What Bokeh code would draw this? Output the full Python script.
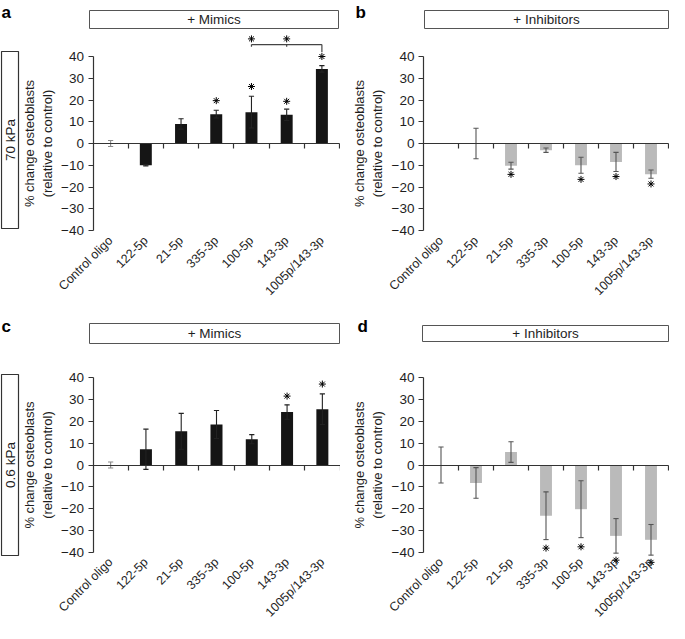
import numpy as np
from math import pi
from bokeh.plotting import figure
from bokeh.models import Range1d, LinearAxis, FixedTicker, ColumnDataSource
from bokeh.layouts import row, column
from bokeh.core.properties import value
from bokeh.embed import file_html
from bokeh.resources import INLINE

FONT = "Liberation Sans"

categories = ["Control oligo", "122-5p", "21-5p", "335-3p", "100-5p", "143-3p", "1005p/143-3p"]
y_ticks = [-40, -30, -20, -10, 0, 10, 20, 30, 40]
y_label = "% change osteoblasts\n(relative to control)"

# panel a: 70 kPa + mimics
a_mean = [0.0, -10.0, 9.0, 13.5, 14.4, 13.2, 34.3]
a_err = [1.4, 0.3, 2.4, 1.8, 7.3, 2.6, 1.5]
a_star = [np.nan, np.nan, np.nan, 19.7, 26.2, 19.4, 40.0]
# bracket in panel a: 100-5p and 143-3p vs 1005p/143-3p
bracket_from = ["100-5p", "143-3p"]
bracket_to = "1005p/143-3p"
bracket_level = 45.5
bracket_star = 48.1

# panel b: 70 kPa + inhibitors
b_mean = [0.0, 0.0, -10.2, -3.1, -10.0, -8.5, -14.1]
b_err = [0.0, 7.0, 1.6, 1.0, 3.7, 4.4, 1.9]
b_star = [np.nan, np.nan, -14.2, np.nan, -16.5, -15.2, -18.6]

# panel c: 0.6 kPa + mimics
c_mean = [0.0, 7.2, 15.4, 18.5, 11.8, 24.2, 25.5]
c_err = [1.4, 9.2, 8.2, 6.4, 2.1, 3.3, 7.0]
c_star = [np.nan, np.nan, np.nan, np.nan, np.nan, 31.5, 37.0]

# panel d: 0.6 kPa + inhibitors
d_mean = [0.0, -8.2, 5.9, -23.2, -20.2, -32.4, -34.2]
d_err = [8.2, 7.0, 4.7, 10.9, 13.0, 7.9, 7.0]
d_star = [np.nan, np.nan, np.nan, -38.0, -37.4, -43.5, -44.5]

BLACK = "#151515"
GRAY = "#bababa"
AXC = "#333333"
TXT = "#1e1e1e"


def panel(letter, title, means, errs, stars, bar_color, err_color, ctrl_err_color,
          W, H, ax_l, ax_r, y40, ym40, letter_xy, title_box, side_box=None,
          side_text=None, bracket=False):
    n = len(categories)
    ppx = (ax_r - ax_l) / n
    ppy = (ym40 - y40) / 80.0

    def X(px):
        return (px - ax_l) / ppx

    def Y(py):
        return 40 - (py - y40) / ppy

    p = figure(width=W, height=H, x_range=Range1d(X(0), X(W)), y_range=Range1d(Y(H), Y(0)),
               x_axis_location=None, y_axis_location=None, toolbar_location=None,
               output_backend="svg", min_border=0, outline_line_color=None)
    p.background_fill_color = "white"
    p.border_fill_color = "white"
    p.grid.visible = False

    means = np.array(means, dtype=float)
    errs = np.array(errs, dtype=float)
    xs = np.arange(n) + 0.5
    cap = 2.6 / ppx
    ecol = [ctrl_err_color] + [err_color] * (n - 1)
    src = ColumnDataSource(dict(x=xs, top=means, lower=means - errs, upper=means + errs,
                                cl=xs - cap, cr=xs + cap, star=np.array(stars, dtype=float),
                                ecol=ecol))
    p.vbar(x="x", top="top", bottom=0, width=0.34, fill_color=bar_color, line_color=None,
           source=src)

    # y axis
    yax = LinearAxis(fixed_location=0, ticker=FixedTicker(ticks=y_ticks, minor_ticks=[]),
                     bounds=(-40, 40))
    yax.major_label_overrides = {t: (("\u2212%d" % -t) if t < 0 else str(t)) for t in y_ticks}
    yax.major_tick_out = 5
    yax.major_tick_in = 0
    yax.minor_tick_line_color = None
    yax.major_label_standoff = 4
    yax.axis_line_color = AXC
    yax.axis_line_width = 1.2
    yax.major_tick_line_color = AXC
    yax.major_tick_line_width = 1.2
    yax.major_label_text_font = FONT
    yax.major_label_text_font_size = "13.5px"
    yax.major_label_text_color = TXT
    yax.axis_label = y_label
    yax.axis_label_text_font = FONT
    yax.axis_label_text_font_size = "13px"
    yax.axis_label_text_font_style = "normal"
    yax.axis_label_text_color = TXT
    yax.axis_label_standoff = 4
    p.add_layout(yax, "left")

    # category axis drawn at y = 0: boundary ticks (minor), labels pushed below -40
    xax = LinearAxis(fixed_location=0,
                     ticker=FixedTicker(ticks=list(xs), minor_ticks=list(range(1, n + 1))),
                     bounds=(0, n))
    xax.major_label_overrides = {float(x): c for x, c in zip(xs, categories)}
    xax.major_label_orientation = pi / 4
    xax.major_tick_line_color = None
    xax.major_tick_out = 0
    xax.major_tick_in = 0
    xax.minor_tick_out = 5
    xax.minor_tick_in = 0
    xax.minor_tick_line_color = AXC
    xax.minor_tick_line_width = 1.2
    xax.axis_line_color = AXC
    xax.axis_line_width = 1.2
    xax.major_label_standoff = int(round(40 * ppy + 3))
    xax.major_label_text_font = FONT
    xax.major_label_text_font_size = "12.5px"
    xax.major_label_text_color = TXT
    p.add_layout(xax, "below")

    # error bars
    p.segment(x0="x", y0="lower", x1="x", y1="upper", line_color="ecol", line_width=1.1, source=src)
    p.segment(x0="cl", y0="upper", x1="cr", y1="upper", line_color="ecol", line_width=1.1, source=src)
    p.segment(x0="cl", y0="lower", x1="cr", y1="lower", line_color="ecol", line_width=1.1, source=src)

    # significance stars
    p.scatter(x="x", y="star", marker="asterisk", size=7, line_color="black", line_width=1.0,
              source=src)

    if bracket:
        i_to = categories.index(bracket_to)
        i_fr = [categories.index(c) for c in bracket_from]
        x0 = xs[min(i_fr)]
        x1 = xs[i_to]
        p.segment(x0=[x0], y0=[bracket_level], x1=[x1], y1=[bracket_level], line_color="#444",
                  line_width=1.2)
        p.segment(x0=[xs[i] for i in i_fr], y0=[bracket_level] * len(i_fr),
                  x1=[xs[i] for i in i_fr], y1=[bracket_level - 1.0] * len(i_fr),
                  line_color="#444", line_width=1.2)
        p.segment(x0=[x1], y0=[bracket_level], x1=[x1], y1=[bracket_level - 3.5],
                  line_color="#444", line_width=1.2)
        p.scatter(x=[xs[i] for i in i_fr], y=[bracket_star] * len(i_fr), marker="asterisk",
                  size=7, line_color="black", line_width=1.0)

    # decorations: panel letter, title box, side box
    p.text(x=[X(letter_xy[0])], y=[Y(letter_xy[1])], text=[letter], text_font=value(FONT),
           text_font_size="17px", text_font_style="bold", text_align="left",
           text_baseline="alphabetic", text_color="black")
    bx0, by0, bx1, by1 = title_box
    p.quad(left=[X(bx0)], right=[X(bx1)], top=[Y(by0)], bottom=[Y(by1)], fill_color=None,
           line_color="#555", line_width=1)
    p.text(x=[X((bx0 + bx1) / 2)], y=[Y((by0 + by1) / 2)], text=[title], text_font=value(FONT),
           text_font_size="13.5px", text_align="center", text_baseline="middle", text_color=TXT)
    if side_box is not None:
        sx0, sy0, sx1, sy1 = side_box
        p.quad(left=[X(sx0)], right=[X(sx1)], top=[Y(sy0)], bottom=[Y(sy1)], fill_color=None,
               line_color="#333", line_width=1.2)
        p.text(x=[X((sx0 + sx1) / 2)], y=[Y((sy0 + sy1) / 2)], text=[side_text],
               text_font=value(FONT), text_font_size="13.5px", text_align="center",
               text_baseline="middle", angle=pi / 2, text_color=TXT)
    return p


pa = panel("a", "+ Mimics", a_mean, a_err, a_star, BLACK, "#222222", "#8a8a8a",
           340, 310, 92.5, 339.0, 56, 230, (1, 12), (89, 10, 338, 28),
           side_box=(1, 51, 18, 228), side_text="70 kPa", bracket=True)
pb = panel("b", "+ Inhibitors", b_mean, b_err, b_star, GRAY, "#555555", "#555555",
           329, 310, 83, 328, 56, 230, (15, 12), (84, 10, 328, 28))
pc = panel("c", "+ Mimics", c_mean, c_err, c_star, BLACK, "#222222", "#8a8a8a",
           340, 313, 92.5, 339.5, 67, 242, (1, 16), (89, 13, 339, 33),
           side_box=(1, 64, 18, 245), side_text="0.6 kPa")
pd_ = panel("d", "+ Inhibitors", d_mean, d_err, d_star, GRAY, "#555555", "#555555",
            329, 313, 83, 328, 67, 242, (17, 16), (82, 15, 328, 31))

layout = column(row(pa, pb, spacing=0), row(pc, pd_, spacing=0), spacing=0)
open("out.html", "w").write(file_html(layout, INLINE))
